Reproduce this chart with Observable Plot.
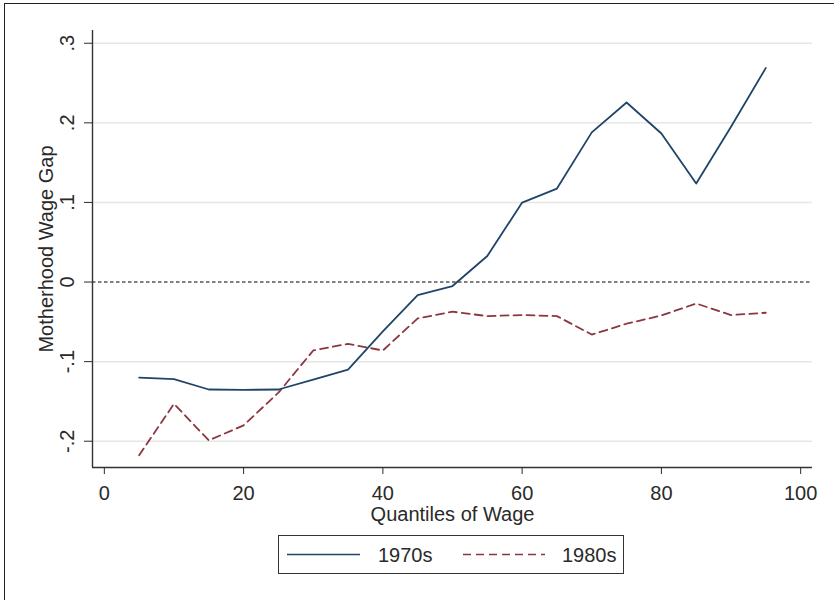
<!DOCTYPE html>
<html>
<head>
<meta charset="utf-8">
<script src="https://cdn.jsdelivr.net/npm/d3@7"></script>
<script src="https://cdn.jsdelivr.net/npm/@observablehq/plot@0.6"></script>
<style>
  html, body { margin: 0; padding: 0; background: #fff; }
  #wrap { position: relative; width: 834px; height: 600px; overflow: hidden; font-family: "Liberation Sans", Arial, sans-serif; }
  #frame { position: absolute; left: 4px; top: 3px; width: 840px; height: 610px; border-left: 1.5px solid #222; border-top: 1.5px solid #222; box-sizing: border-box; pointer-events: none; }
  #chart { position: absolute; left: 0; top: 0; }
  #legend { position: absolute; left: 278px; top: 535px; width: 346px; height: 39px; border: 1.5px solid #333; box-sizing: border-box; background: #fff; }
</style>
</head>
<body>
<div id="wrap">
  <div id="chart"></div>
  <div id="legend"></div>
  <div id="frame"></div>
</div>
<script>
// ---- data ----
const quantiles = [5, 10, 15, 20, 25, 30, 35, 40, 45, 50, 55, 60, 65, 70, 75, 80, 85, 90, 95];
const gap1970s = [-0.120, -0.122, -0.135, -0.1355, -0.135, -0.1225, -0.110, -0.062, -0.0164, -0.005, 0.0327, 0.0998, 0.1174, 0.188, 0.2256, 0.1866, 0.1237, 0.195, 0.269];
const gap1980s = [-0.2176, -0.153, -0.199, -0.180, -0.139, -0.086, -0.0776, -0.086, -0.0457, -0.0373, -0.0428, -0.0415, -0.0428, -0.066, -0.0524, -0.042, -0.027, -0.0415, -0.0386];
const seriesNames = ["1970s", "1980s"];
const xTicks = [0, 20, 40, 60, 80, 100];
const yTicks = [0.3, 0.2, 0.1, 0, -0.1, -0.2];
const yTickLabels = [".3", ".2", ".1", "0", "-.1", "-.2"];
const xTitle = "Quantiles of Wage";
const yTitle = "Motherhood Wage Gap";

const colors = {"1970s": "#1f4568", "1980s": "#8c3640"};
const dashes = {"1970s": null, "1980s": "8,5"};

const rows = [];
quantiles.forEach((q, i) => {
  rows.push({series: "1970s", q, v: gap1970s[i]});
  rows.push({series: "1980s", q, v: gap1980s[i]});
});

const xDomain = [-1.7, 101.7];
const yDomain = [-0.233, 0.316];
const gridTicks = yTicks.filter(d => d !== 0);
const yLabelRows = yTicks.map((t, i) => ({t, label: yTickLabels[i]}));

const chart = Plot.plot({
  width: 834,
  height: 530,
  marginLeft: 92,
  marginRight: 22,
  marginTop: 30,
  marginBottom: 63,
  style: {fontFamily: "'Liberation Sans', Arial, sans-serif", fontSize: "20px", color: "#2a2a2a", background: "transparent"},
  x: {domain: xDomain, ticks: xTicks, tickSize: 7, tickPadding: 11, tickFormat: d => String(d), label: null},
  y: {domain: yDomain, ticks: yTicks, tickSize: 8, tickFormat: () => "", label: null},
  marks: [
    Plot.ruleY(gridTicks, {stroke: "#e6e6e6", strokeWidth: 1.5}),
    Plot.ruleY([0], {stroke: "#555", strokeWidth: 1.6, strokeDasharray: "3.5,2.5"}),
    Plot.ruleY([yDomain[0]], {stroke: "#333", strokeWidth: 1.4}),
    Plot.ruleX([xDomain[0]], {stroke: "#333", strokeWidth: 1.4}),
    Plot.line(rows.filter(d => d.series === "1980s"), {x: "q", y: "v", stroke: colors["1980s"], strokeWidth: 1.8, strokeDasharray: dashes["1980s"]}),
    Plot.line(rows.filter(d => d.series === "1970s"), {x: "q", y: "v", stroke: colors["1970s"], strokeWidth: 1.8}),
    Plot.text(yLabelRows, {y: "t", text: "label", frameAnchor: "left", textAnchor: "middle", lineAnchor: "middle", dx: -25, rotate: -90, fill: "#2a2a2a", fontSize: 20}),
    Plot.text([yTitle], {text: d => d, frameAnchor: "left", textAnchor: "middle", lineAnchor: "middle", dx: -46, rotate: -90, fill: "#2a2a2a", fontSize: 20}),
    Plot.text([xTitle], {text: d => d, frameAnchor: "bottom", textAnchor: "middle", lineAnchor: "bottom", dy: 53, fill: "#2a2a2a", fontSize: 20})
  ]
});
document.getElementById("chart").appendChild(chart);

// ---- legend ----
const lg = d3.select("#legend").append("svg").attr("width", 343).attr("height", 36)
  .style("font-family", "'Liberation Sans', Arial, sans-serif").style("font-size", "20px");
const items = [
  {name: seriesNames[0], x1: 8, x2: 81, tx: 99},
  {name: seriesNames[1], x1: 184, x2: 266, tx: 283}
];
items.forEach(it => {
  lg.append("line").attr("x1", it.x1).attr("x2", it.x2).attr("y1", 18.5).attr("y2", 18.5)
    .attr("stroke", colors[it.name]).attr("stroke-width", 1.6)
    .attr("stroke-dasharray", dashes[it.name]);
  lg.append("text").attr("x", it.tx).attr("y", 18.5).attr("dy", "0.36em").attr("fill", "#2a2a2a").text(it.name);
});
</script>
</body>
</html>
